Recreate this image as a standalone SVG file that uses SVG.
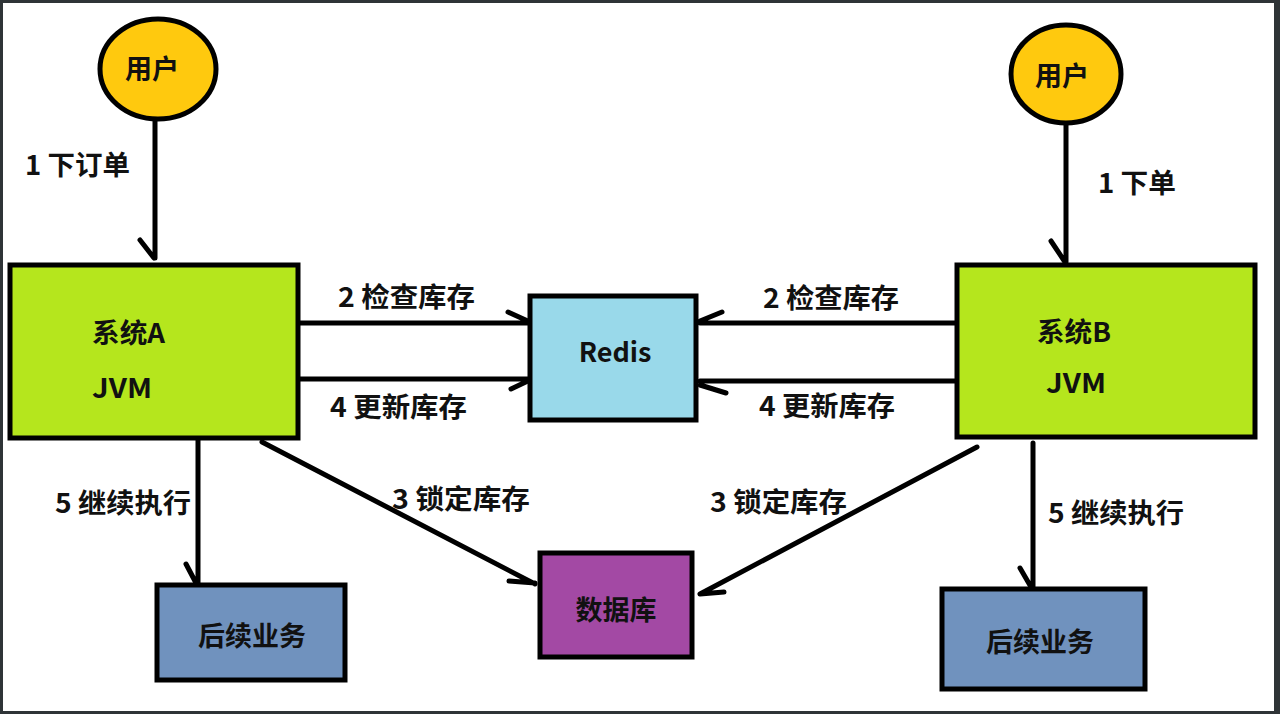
<svg xmlns="http://www.w3.org/2000/svg" width="1280" height="714" viewBox="0 0 1280 714">
<style>
.n{stroke:#000;stroke-width:5}
.t{font-family:"Microsoft YaHei","Noto Sans CJK SC","Noto Sans",sans-serif;font-weight:bold;font-size:27px;fill:#111}
.c{text-anchor:middle}
.e{fill:none;stroke:#000;stroke-width:5;stroke-linecap:round;stroke-linejoin:round}
</style>
<rect x="0" y="0" width="1280" height="714" fill="#2f3437"/>
<rect x="3" y="3" width="1271" height="708" fill="#fff"/>
<g id="connectors">
<path class="e" d="M155,121 V258 M140,240 L154,258"/>
<path class="e" d="M1066,124 V262 M1051,241 L1065,262"/>
<path class="e" d="M298,323 H530 M508,312 L530,322"/>
<path class="e" d="M298,379 H530 M511,389 L530,380"/>
<path class="e" d="M957,323 H700 M722,312 L700,321"/>
<path class="e" d="M957,381 H700 M726,393 L700,385"/>
<path class="e" d="M262,442 L535,584 M509,581 L535,583"/>
<path class="e" d="M977,447 L700,594 M724,592 L700,594"/>
<path class="e" d="M198,438 V583 M186,564 L196,583"/>
<path class="e" d="M1033,443 V587 M1020,568 L1031,587"/>
<text class="t" x="25" y="175" textLength="105" lengthAdjust="spacingAndGlyphs">1 下订单</text>
<text class="t" x="1098" y="193" textLength="78" lengthAdjust="spacingAndGlyphs">1 下单</text>
<text class="t" x="338" y="307" textLength="137" lengthAdjust="spacingAndGlyphs">2 检查库存</text>
<text class="t" x="330" y="417" textLength="137" lengthAdjust="spacingAndGlyphs">4 更新库存</text>
<text class="t" x="763" y="308" textLength="136" lengthAdjust="spacingAndGlyphs">2 检查库存</text>
<text class="t" x="759" y="416" textLength="136" lengthAdjust="spacingAndGlyphs">4 更新库存</text>
<text class="t" x="392" y="509" textLength="138" lengthAdjust="spacingAndGlyphs">3 锁定库存</text>
<text class="t" x="710" y="512" textLength="137" lengthAdjust="spacingAndGlyphs">3 锁定库存</text>
<text class="t" x="55" y="513" textLength="136" lengthAdjust="spacingAndGlyphs">5 继续执行</text>
<text class="t" x="1048" y="523" textLength="136" lengthAdjust="spacingAndGlyphs">5 继续执行</text>
</g>
<g id="userA"><ellipse class="n" cx="158" cy="69" rx="58" ry="50" fill="#ffc90e"/><text class="t c" x="152" y="79">用户</text></g>
<g id="userB"><ellipse class="n" cx="1066" cy="74" rx="55" ry="49" fill="#ffc90e"/><text class="t c" x="1062" y="86">用户</text></g>
<g id="sysA"><rect class="n" x="10" y="265" width="288" height="173" fill="#b5e61d"/><text class="t" x="92" y="343" textLength="73" lengthAdjust="spacingAndGlyphs">系统A</text><text class="t" x="92" y="398" textLength="60" lengthAdjust="spacingAndGlyphs">JVM</text></g>
<g id="sysB"><rect class="n" x="957" y="265" width="298" height="172" fill="#b5e61d"/><text class="t" x="1037" y="342" textLength="74" lengthAdjust="spacingAndGlyphs">系统B</text><text class="t" x="1046" y="393" textLength="60" lengthAdjust="spacingAndGlyphs">JVM</text></g>
<g id="redis"><rect class="n" x="530" y="296" width="166" height="124" fill="#99d9ea"/><text class="t c" x="615" y="362">Redis</text></g>
<g id="db"><rect class="n" x="540" y="553" width="152" height="104" fill="#a349a4"/><text class="t c" x="616" y="620">数据库</text></g>
<g id="nextA"><rect class="n" x="157" y="585" width="188" height="95" fill="#7092be"/><text class="t c" x="252" y="646">后续业务</text></g>
<g id="nextB"><rect class="n" x="942" y="589" width="203" height="100" fill="#7092be"/><text class="t c" x="1040" y="652">后续业务</text></g>
</svg>
